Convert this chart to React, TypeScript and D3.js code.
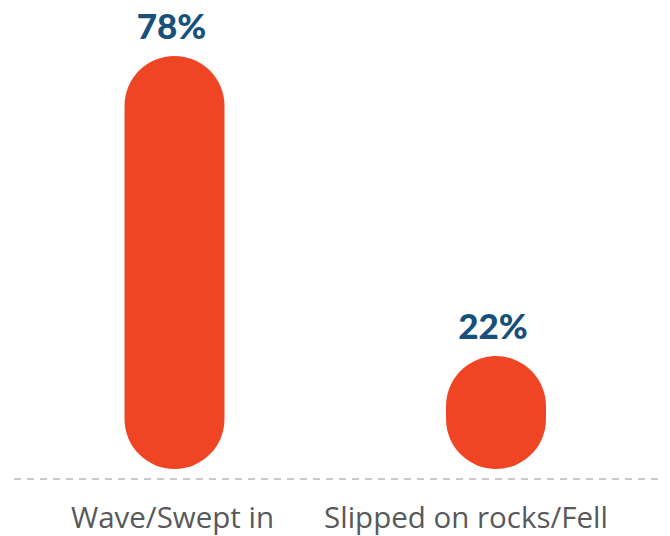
import { useEffect, useRef } from "react"
import * as d3 from "d3"

const categories = ["Wave/Swept in", "Slipped on rocks/Fell"]
const values = [78, 22]
const valueLabels = ["78%", "22%"]

export default function App() {
  const svgRef = useRef<SVGSVGElement>(null)

  useEffect(() => {
    if (!svgRef.current) return
    const svg = d3.select(svgRef.current)
    svg.selectAll("*").remove()

    const width = 670
    const height = 536
    const barWidth = 100
    const bottom = 469

    const x = d3.scalePoint<string>().domain(categories).range([174.5, 496])
    const y = d3.scaleLinear().domain([0, 100]).range([474, -62])

    const data = categories.map((c, i) => ({ cat: c, value: values[i], label: valueLabels[i] }))

    // baseline
    svg
      .append("line")
      .attr("x1", 14)
      .attr("x2", 660)
      .attr("y1", 479)
      .attr("y2", 479)
      .attr("stroke", "#c9c9c9")
      .attr("stroke-width", 2)
      .attr("stroke-dasharray", "7,6")

    // rounded bars
    svg
      .selectAll(".bar")
      .data(data)
      .enter()
      .append("rect")
      .attr("class", "bar")
      .attr("x", (d) => x(d.cat)! - barWidth / 2)
      .attr("y", (d) => y(d.value))
      .attr("width", barWidth)
      .attr("height", (d) => bottom - y(d.value))
      .attr("rx", barWidth / 2)
      .attr("ry", barWidth / 2)
      .attr("fill", "#f04524")

    // value labels
    svg
      .selectAll(".value")
      .data(data)
      .enter()
      .append("text")
      .attr("class", "value")
      .attr("x", (d) => x(d.cat)! - 3)
      .attr("y", (d) => y(d.value) - 17)
      .attr("text-anchor", "middle")
      .attr("font-family", "Lato, sans-serif")
      .attr("font-weight", 900)
      .attr("font-size", 35)
      .attr("fill", "#17507a")
      .text((d) => d.label)

    // category labels
    const labelShift = [-2, -30]
    svg
      .selectAll(".cat")
      .data(data)
      .enter()
      .append("text")
      .attr("class", "cat")
      .attr("x", (d, i) => x(d.cat)! + labelShift[i])
      .attr("y", 528)
      .attr("text-anchor", "middle")
      .attr("font-family", "'Open Sans', sans-serif")
      .attr("font-size", 29.5)
      .attr("fill", "#58595b")
      .text((d) => d.cat)

    svg.attr("width", width).attr("height", height)
  }, [])

  return (
    <div style={{ position: "absolute", left: 0, top: 0 }}>
      <svg ref={svgRef} style={{ display: "block", background: "#fff" }} />
    </div>
  )
}
